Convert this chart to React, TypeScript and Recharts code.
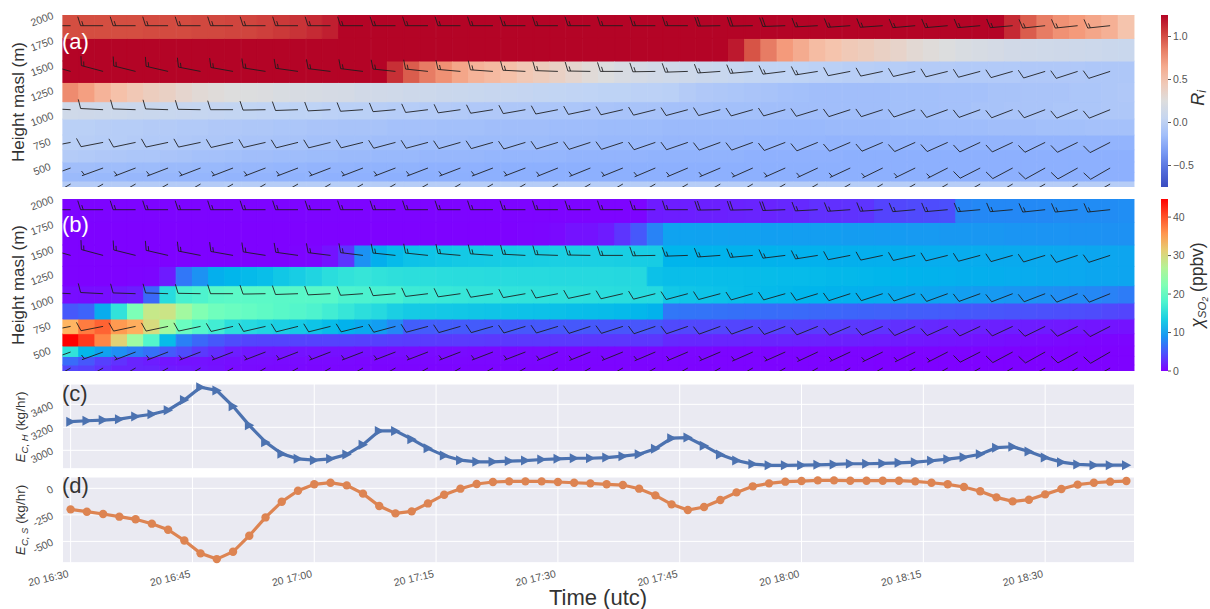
import React from "react";
import {
  Bar,
  CartesianGrid,
  Cell,
  ComposedChart,
  Line,
  LineChart,
  Scatter,
  XAxis,
  YAxis,
} from "recharts";

// minutes after 16:30, one column every 2 min
const minutes = [
  0, 2, 4, 6, 8, 10, 12, 14, 16, 18, 20, 22, 24, 26, 28, 30, 32, 34, 36, 38, 40, 42,
  44, 46, 48, 50, 52, 54, 56, 58, 60, 62, 64, 66, 68, 70, 72, 74, 76, 78, 80, 82, 84,
  86, 88, 90, 92, 94, 96, 98, 100, 102, 104, 106, 108, 110, 112, 114, 116, 118, 120,
  122, 124, 126, 128, 130,
];
const timeTicks = [0, 15, 30, 45, 60, 75, 90, 105, 120];
const timeLabels = ["20 16:30", "20 16:45", "20 17:00", "20 17:15", "20 17:30", "20 17:45", "20 18:00", "20 18:15", "20 18:30"];
const heightTicks = [500, 750, 1000, 1250, 1500, 1750, 2000];

// model layers, thickness in m from the ground up
const layerThickness = [380, 86, 104, 123, 147, 160, 173, 193, 214, 226, 234];

// Richardson number, top layer first
const riRows = [
  [1.0,1.0,1.0,1.0,1.0,1.01,1.01,1.01,1.02,1.02,1.03,1.03,1.05,1.07,1.09,1.12,1.16,1.25,1.25,1.25,1.25,1.25,1.25,1.25,1.25,1.25,1.25,1.25,1.25,1.25,1.25,1.25,1.25,1.25,1.25,1.25,1.25,1.25,1.25,1.25,1.25,1.25,1.25,1.25,1.25,1.25,1.25,1.25,1.25,1.25,1.25,1.25,1.25,1.25,1.25,1.25,1.25,1.25,1.12,0.95,0.85,0.78,0.75,0.68,0.62,0.5],
  [1.25,1.25,1.25,1.25,1.25,1.25,1.25,1.25,1.25,1.25,1.25,1.25,1.25,1.25,1.25,1.25,1.25,1.25,1.25,1.25,1.25,1.25,1.25,1.25,1.25,1.25,1.25,1.25,1.25,1.25,1.25,1.25,1.25,1.25,1.25,1.25,1.25,1.25,1.25,1.25,1.25,1.18,0.98,0.85,0.75,0.65,0.55,0.5,0.45,0.42,0.38,0.35,0.3,0.27,0.24,0.21,0.19,0.17,0.15,0.14,0.13,0.12,0.11,0.1,0.09,0.08],
  [1.25,1.25,1.25,1.25,1.25,1.25,1.25,1.25,1.25,1.25,1.25,1.25,1.25,1.25,1.25,1.25,1.25,1.25,1.25,1.25,1.1,0.95,0.85,0.78,0.68,0.6,0.56,0.52,0.46,0.42,0.38,0.33,0.28,0.24,0.2,0.17,0.15,0.13,0.11,0.09,0.07,0.05,0.03,0.01,0,-0.01,-0.02,-0.03,-0.04,-0.04,-0.05,-0.05,-0.06,-0.06,-0.06,-0.07,-0.07,-0.07,-0.07,-0.08,-0.08,-0.08,-0.08,-0.09,-0.09,-0.09],
  [0.8,0.72,0.6,0.52,0.46,0.41,0.38,0.33,0.29,0.27,0.25,0.24,0.23,0.21,0.2,0.19,0.18,0.17,0.15,0.14,0.13,0.11,0.1,0.09,0.08,0.07,0.06,0.05,0.04,0.03,0.02,0.01,0,-0.01,-0.01,-0.02,-0.02,-0.03,-0.06,-0.08,-0.09,-0.1,-0.11,-0.12,-0.13,-0.14,-0.15,-0.15,-0.15,-0.15,-0.15,-0.14,-0.14,-0.14,-0.13,-0.13,-0.13,-0.12,-0.12,-0.11,-0.11,-0.11,-0.1,-0.1,-0.09,-0.08],
  [0.13,0.12,0.11,0.1,0.09,0.08,0.07,0.06,0.05,0.04,0.03,0.02,0.01,0,-0.01,-0.01,-0.02,-0.03,-0.03,-0.04,-0.05,-0.05,-0.06,-0.06,-0.07,-0.08,-0.08,-0.09,-0.09,-0.1,-0.1,-0.1,-0.11,-0.11,-0.12,-0.12,-0.12,-0.13,-0.13,-0.13,-0.14,-0.14,-0.14,-0.15,-0.15,-0.15,-0.15,-0.15,-0.15,-0.15,-0.15,-0.14,-0.14,-0.14,-0.13,-0.13,-0.12,-0.12,-0.11,-0.11,-0.11,-0.1,-0.1,-0.1,-0.09,-0.09],
  [-0.03,-0.03,-0.04,-0.05,-0.05,-0.06,-0.06,-0.07,-0.07,-0.08,-0.08,-0.09,-0.09,-0.1,-0.1,-0.11,-0.11,-0.12,-0.12,-0.12,-0.13,-0.13,-0.13,-0.14,-0.14,-0.14,-0.15,-0.15,-0.15,-0.15,-0.16,-0.16,-0.16,-0.17,-0.17,-0.17,-0.17,-0.18,-0.18,-0.18,-0.18,-0.18,-0.18,-0.18,-0.19,-0.19,-0.19,-0.18,-0.18,-0.18,-0.18,-0.17,-0.17,-0.17,-0.16,-0.16,-0.16,-0.15,-0.15,-0.15,-0.14,-0.14,-0.14,-0.13,-0.13,-0.13],
  [-0.03,-0.04,-0.05,-0.05,-0.06,-0.07,-0.07,-0.08,-0.09,-0.09,-0.1,-0.11,-0.11,-0.12,-0.12,-0.13,-0.13,-0.14,-0.14,-0.15,-0.15,-0.15,-0.16,-0.16,-0.16,-0.17,-0.17,-0.17,-0.17,-0.17,-0.18,-0.18,-0.18,-0.19,-0.19,-0.19,-0.19,-0.2,-0.2,-0.2,-0.2,-0.2,-0.21,-0.21,-0.21,-0.21,-0.21,-0.22,-0.22,-0.22,-0.22,-0.22,-0.22,-0.22,-0.22,-0.22,-0.22,-0.22,-0.22,-0.22,-0.22,-0.22,-0.22,-0.22,-0.22,-0.22],
  [-0.06,-0.07,-0.08,-0.09,-0.1,-0.1,-0.11,-0.12,-0.13,-0.13,-0.14,-0.15,-0.15,-0.16,-0.16,-0.17,-0.17,-0.18,-0.18,-0.19,-0.19,-0.19,-0.2,-0.2,-0.2,-0.2,-0.21,-0.21,-0.21,-0.21,-0.21,-0.22,-0.22,-0.22,-0.22,-0.22,-0.23,-0.23,-0.23,-0.23,-0.23,-0.23,-0.24,-0.24,-0.24,-0.24,-0.24,-0.24,-0.25,-0.25,-0.25,-0.25,-0.25,-0.25,-0.25,-0.25,-0.25,-0.25,-0.25,-0.25,-0.25,-0.25,-0.25,-0.25,-0.25,-0.25],
  [-0.15,-0.15,-0.16,-0.16,-0.17,-0.17,-0.18,-0.18,-0.19,-0.19,-0.2,-0.2,-0.2,-0.21,-0.21,-0.22,-0.22,-0.22,-0.23,-0.23,-0.23,-0.23,-0.24,-0.24,-0.24,-0.24,-0.25,-0.25,-0.25,-0.25,-0.25,-0.25,-0.25,-0.25,-0.25,-0.25,-0.25,-0.25,-0.25,-0.25,-0.25,-0.25,-0.25,-0.25,-0.25,-0.25,-0.25,-0.25,-0.25,-0.25,-0.25,-0.25,-0.25,-0.25,-0.25,-0.25,-0.25,-0.25,-0.25,-0.25,-0.25,-0.25,-0.25,-0.25,-0.25,-0.25],
  [-0.18,-0.18,-0.19,-0.19,-0.2,-0.2,-0.2,-0.21,-0.21,-0.21,-0.22,-0.22,-0.22,-0.23,-0.23,-0.23,-0.24,-0.24,-0.24,-0.24,-0.25,-0.25,-0.25,-0.25,-0.25,-0.25,-0.25,-0.25,-0.25,-0.25,-0.25,-0.25,-0.25,-0.25,-0.25,-0.25,-0.25,-0.25,-0.25,-0.25,-0.25,-0.25,-0.25,-0.25,-0.25,-0.25,-0.25,-0.25,-0.25,-0.25,-0.25,-0.25,-0.25,-0.25,-0.25,-0.25,-0.25,-0.25,-0.25,-0.25,-0.25,-0.25,-0.25,-0.25,-0.25,-0.25],
  [-0.06,-0.06,-0.06,-0.06,-0.06,-0.06,-0.06,-0.06,-0.06,-0.06,-0.05,-0.05,-0.05,-0.05,-0.05,-0.05,-0.05,-0.05,-0.05,-0.05,-0.05,-0.05,-0.05,-0.05,-0.05,-0.05,-0.05,-0.05,-0.05,-0.05,-0.05,-0.05,-0.05,-0.05,-0.05,-0.05,-0.05,-0.05,-0.05,-0.05,-0.05,-0.05,-0.05,-0.05,-0.05,-0.05,-0.05,-0.05,-0.05,-0.05,-0.05,-0.05,-0.05,-0.05,-0.05,-0.05,-0.05,-0.05,-0.05,-0.05,-0.05,-0.05,-0.05,-0.05,-0.05,-0.05],
];

// SO2 mixing ratio (ppbv), top layer first
const so2Rows = [
  [0.2,0.2,0.2,0.2,0.2,0.2,0.2,0.2,0.2,0.2,0.2,0.2,0.2,0.2,0.2,0.2,0.2,0.2,0.2,0.2,0.2,0.2,0.2,0.2,0.2,0.2,0.2,0.2,0.2,0.2,0.2,0.2,0.2,0.2,0.2,0.2,1.5,1.6,1.7,1.8,1.8,1.9,2,2,2.2,2.3,2.7,2.7,2.8,2.9,3.8,4,4.2,4.3,4.5,7.8,8,8,8,8.1,8.1,8.2,8.2,8.3,8.3,8.4],
  [0.1,0.1,0.1,0.1,0.1,0.1,0.1,0.1,0.1,0.1,0.1,0.1,0.1,0.1,0.1,0.1,0.1,0.1,0.1,0.1,0.1,0.1,0.1,0.1,0.1,0.1,0.1,0.1,0.2,0.3,0.5,1,1,1.5,3,5,7.7,9.9,9.9,9.8,9.8,9.7,9.7,9.6,9.6,9.5,9.5,9.5,9.4,9.4,9.3,9.3,9.2,9.2,9.1,9.1,9,9,8.9,8.9,8.8,8.8,8.7,8.7,8.6,8.6],
  [0.1,0.1,0.1,0.1,0.1,0.1,0.1,0.1,0.1,0.1,0.1,0.1,0.1,0.1,0.2,0.3,1,3,8.7,10.8,11.7,12.3,12.5,12.7,12.9,13,13.1,13.2,13.3,13.4,13.5,13.5,13.5,13.5,13.4,13.3,13.2,11.2,11.2,11.1,11.1,11,11,11,10.9,10.9,10.9,10.8,10.8,10.8,10.8,10.7,10.7,10.6,10.6,10.5,10.5,10.4,10.4,10.3,10.3,10.2,10.2,10.1,10.1,10],
  [0.1,0.1,0.1,0.1,0.2,0.3,1.5,6.9,8.7,10.8,11.3,11.6,12,12.7,13.3,14,14.9,15.5,15.9,15.5,15.2,15,15,14.9,14.8,14.8,14.7,14.7,14.6,14.6,14.5,14.5,14.5,14.5,14.4,14.4,12.2,12,12,12,11.9,11.9,11.8,11.8,11.7,11.7,11.6,11.5,11.5,11.4,11.3,11.2,11.1,11,10.9,10.8,10.8,10.7,10.6,10.5,10.4,10.3,10.2,10.1,10.1,10],
  [0.7,0.7,0.7,1.3,1.6,6,14.7,17.5,18,19,19.2,19.2,19.2,19.1,19,19,18.9,18,17.8,17.6,17.5,16.6,16.4,16.2,16,15.8,15.7,15.6,15.5,15.4,15.3,15.2,15,14.9,14.8,14.6,14.5,12.8,12.6,12.4,12.2,12,11.8,11.6,11.5,11.3,11.2,11,10.9,10.8,10.6,10.4,10.2,10,9.9,9.6,9.4,9.2,9,8.8,8.6,8.4,8.2,8,7.6,7.2],
  [5,5.7,10.5,15.5,22,28.5,29,25.4,22.5,21,20.5,20,19.5,19,18.5,18,17,16,15,14.5,13.5,13,12.9,12.8,12.7,12.6,12.5,12.4,12.3,12.2,12.1,12,11.9,11.8,11.6,11.4,11,6.9,6.8,6.7,6.6,6.5,6.4,6.3,6.2,6.1,6,5.9,5.8,5.7,5.6,5.5,5.4,5.3,5.2,5.1,5,4.9,4.8,4.7,4.6,4.5,4.4,4.3,4.1,3.9],
  [33.5,37.5,39,35.5,34,30,25.5,20.5,18.5,17,15,14.5,14,13.5,13,12.5,11.8,11,10.3,9.5,8,5.4,5.3,5.3,5.2,5.2,5.1,5.1,5,5,5,5,5,4.9,4.9,4.9,4.8,4.2,4.1,4,4,3.9,3.8,3.7,3.6,3.5,3.4,3.3,3.2,3.1,2.9,2.7,2.5,2.3,2.1,2,1.9,1.8,1.7,1.6,1.5,1.4,1.3,1.2,1.1,1],
  [44.7,41.5,36.8,31,25,18.5,11.8,7.5,6,5,4.3,3.9,3.8,3.8,3.8,3.7,3.7,3.7,3.6,3.6,3.5,3.4,3.4,3.3,3.3,3.3,3.2,3.2,3.2,3.2,3.2,3.2,3.1,3.1,3.1,3.1,3.1,2.3,2.2,2.2,2.1,2.1,2,2,2,1.9,1.9,1.8,1.8,1.7,1.6,1.5,1.4,1.3,1.2,1.1,1,0.9,0.8,0.7,0.6,0.5,0.4,0.3,0.3,0.3],
  [15.5,11.5,9.8,8.5,7.4,6.5,5.2,4.3,3.2,2.5,1.6,1.3,1.2,1.1,1,1,0.9,0.9,0.8,0.8,0.7,0.7,0.6,0.6,0.6,0.5,0.5,0.5,0.5,0.5,0.4,0.4,0.4,0.4,0.4,0.4,0.4,0.4,0.4,0.4,0.3,0.3,0.3,0.3,0.3,0.3,0.3,0.3,0.3,0.3,0.2,0.2,0.2,0.2,0.2,0.2,0.2,0.2,0.1,0.1,0.1,0.1,0.1,0.1,0.1,0.1],
  [6.2,5,3.6,2.8,2,1.6,1.2,1,1,0.9,0.8,0.7,0.7,0.6,0.6,0.5,0.5,0.5,0.4,0.4,0.4,0.4,0.4,0.4,0.4,0.4,0.4,0.4,0.4,0.4,0.3,0.3,0.3,0.3,0.3,0.3,0.3,0.3,0.3,0.3,0.2,0.2,0.2,0.2,0.2,0.2,0.2,0.2,0.2,0.2,0.1,0.1,0.1,0.1,0.1,0.1,0.1,0.1,0.1,0.1,0.1,0.1,0.1,0.1,0.1,0.1],
  [4,3.6,2.8,2,2,2,1.5,1.4,1.2,1,0.6,0.6,0.5,0.5,0.5,0.4,0.4,0.4,0.4,0.3,0.3,0.3,0.3,0.3,0.3,0.3,0.3,0.3,0.3,0.3,0.2,0.2,0.2,0.2,0.2,0.2,0.2,0.2,0.2,0.2,0.2,0.2,0.2,0.2,0.2,0.2,0.2,0.2,0.2,0.2,0.1,0.1,0.1,0.1,0.1,0.1,0.1,0.1,0.1,0.1,0.1,0.1,0.1,0.1,0.1,0.1],
];

// wind barbs: one every 4 min on six heights
const barbMinutes = [0, 4, 8, 12, 16, 20, 24, 28, 32, 36, 40, 44, 48, 52, 56, 60, 64, 68, 72, 76, 80, 84, 88, 92, 96, 100, 104, 108, 112, 116, 120, 124, 128];
const barbHeights = [1933, 1476, 1093, 766, 510, 350];
const windDirRows = [
  [270,270,270,270,270,270,270,270,270,270,270,270,270,270,270,270,270,270,270,270,269,269,268,267,266,266,265,265,265,265,264,264,264],
  [286,285,284,283,281,280,279,278,277,277,276,276,275,274,273,272,271,270,269,268,266,265,263,261,259,258,257,256,255,254,253,252,252],
  [273,273,272,272,271,270,269,268,267,266,265,263,262,261,260,259,258,257,256,255,255,254,254,253,252,252,251,250,250,249,249,248,248],
  [259,259,258,258,258,257,257,256,256,256,255,255,254,254,253,253,252,252,251,251,250,250,249,248,247,247,246,246,245,245,244,244,243],
  [250,250,249,249,249,249,249,249,249,249,249,249,249,249,249,248,248,248,247,247,247,246,246,245,245,244,244,243,243,242,241,241,240],
  [240,240,240,240,240,240,240,240,240,240,240,240,240,240,240,240,240,240,240,240,240,240,240,240,240,240,240,240,240,240,240,240,240],
];
const windSpeedRows = [
  [15,15,15,15,15,15,15,15,15,15,15,15,15,15,15,15,15,15,15,15,20,20,20,15,15,15,15,15,15,15,15,15,15],
  [15,15,15,15,15,15,15,15,15,15,15,15,15,15,15,15,15,15,15,15,15,15,15,15,10,10,10,10,10,10,10,10,10],
  [10,10,10,10,10,10,10,10,10,10,10,10,10,10,10,10,10,10,10,10,10,10,10,10,10,10,10,10,10,10,10,10,10],
  [10,10,10,10,10,10,10,10,10,10,10,10,10,10,10,10,10,10,10,10,10,10,10,10,10,10,10,10,10,10,10,10,10],
  [5,5,5,5,5,5,5,5,5,5,5,5,5,5,5,5,5,5,5,5,5,5,5,5,5,5,5,5,10,10,10,10,10],
  [5,5,5,5,5,5,5,5,5,5,5,5,5,5,5,5,5,5,5,5,5,5,5,5,5,5,5,5,5,5,5,5,5],
];

// emission rates (kg/hr)
const hEmission = [3249,3257,3263,3271,3294,3314,3349,3437,3549,3520,3383,3217,3071,2969,2926,2914,2926,2963,3049,3169,3169,3097,3017,2954,2914,2900,2900,2906,2911,2920,2926,2931,2931,2937,2949,2966,3014,3106,3111,3040,2963,2911,2880,2869,2869,2871,2874,2877,2883,2883,2886,2891,2897,2909,2923,2940,2966,3023,3031,2989,2937,2897,2877,2871,2871,2871];
const sEmission = [-198,-220,-242,-267,-292,-333,-390,-491,-613,-667,-598,-447,-274,-126,-22,38,53,28,-50,-167,-236,-217,-142,-60,-3,41,60,66,66,66,60,53,47,38,31,-3,-66,-151,-204,-176,-110,-38,19,47,63,69,75,75,72,72,72,72,66,53,38,13,-28,-85,-123,-107,-57,-6,35,53,63,69];

const riRange = [-0.75, 1.25];
const so2Range = [0, 44.7];

const FONT = "'Liberation Sans', Arial, sans-serif";
const TICK = "#555";
const LABEL = "#333";
const PLOT_LEFT = 62.5;
const PLOT_RIGHT = 1210 - 1134.5;

const coolwarmStops = [
  [58, 76, 192], [89, 119, 227], [141, 176, 254], [192, 212, 245], [221, 221, 221],
  [245, 196, 173], [244, 154, 123], [212, 78, 65], [180, 4, 38],
];

function coolwarm(v: number) {
  const x = Math.min(1, Math.max(0, (v - riRange[0]) / (riRange[1] - riRange[0])));
  const p = x * (coolwarmStops.length - 1);
  const i = Math.min(coolwarmStops.length - 2, Math.floor(p));
  const f = p - i;
  const c = coolwarmStops[i].map((a, k) => Math.round(a + (coolwarmStops[i + 1][k] - a) * f));
  return `rgb(${c[0]},${c[1]},${c[2]})`;
}

function rainbow(v: number) {
  const x = Math.min(1, Math.max(0, (v - so2Range[0]) / (so2Range[1] - so2Range[0])));
  const r = Math.min(1, Math.abs(2 * x - 0.5));
  const g = Math.sin(Math.PI * x);
  const b = Math.cos((Math.PI * x) / 2);
  return `rgb(${Math.round(r * 255)},${Math.round(g * 255)},${Math.round(b * 255)})`;
}

const layerKeys = layerThickness.map((_, i) => `layer${i}`);
const heatTable = minutes.map((t) => {
  const row: Record<string, number> = { t };
  layerThickness.forEach((h, i) => (row[layerKeys[i]] = h));
  return row;
});
const barbPoints = barbHeights.flatMap((height, r) =>
  barbMinutes.map((t, k) => ({ t, height, dir: windDirRows[r][k], speed: windSpeedRows[r][k] }))
);
const emissionTable = minutes.map((t, i) => ({ t, h: hEmission[i], s: sEmission[i] }));

// tip of the barb sits on the point, shaft points where the wind comes from
function Barb(props: any) {
  const { cx, cy, payload } = props;
  if (cx == null || cy == null) return null;
  const a = ((payload.dir - 270) * Math.PI) / 180;
  const ux = -Math.cos(a);
  const uy = -Math.sin(a);
  const fx = 0.3 * ux + 0.95 * Math.sin(a);
  const fy = 0.3 * uy - 0.95 * Math.cos(a);
  const len = 22.5;
  const ex = cx + ux * len;
  const ey = cy + uy * len;
  let d = `M${cx} ${cy}L${ex} ${ey}`;
  const feather = (offset: number, size: number) => {
    const bx = ex - ux * offset;
    const by = ey - uy * offset;
    d += `M${bx} ${by}L${bx + fx * size} ${by + fy * size}`;
  };
  if (payload.speed >= 10) feather(0, 9.5);
  if (payload.speed >= 20) feather(2.6, 9.5);
  if (payload.speed === 5 || payload.speed === 15) feather(2.6, 4.8);
  return <path d={d} fill="none" stroke="#1c1c1c" strokeWidth={1} strokeOpacity={0.88} />;
}

function HeightTick(props: any) {
  const { y, payload } = props;
  return (
    <text x={42} y={y} dy="0.35em" textAnchor="middle" fontSize={10.5} fontFamily={FONT} fill={TICK} transform={`rotate(-20 42 ${y})`}>
      {payload.value}
    </text>
  );
}

function EmissionTick(props: any) {
  const { y, payload } = props;
  return (
    <text x={52.5} y={y} dy="0.35em" textAnchor="end" fontSize={10.5} fontFamily={FONT} fill={TICK} transform={`rotate(-25 52.5 ${y})`}>
      {payload.value}
    </text>
  );
}

function TimeTick(props: any) {
  const { x, payload } = props;
  const label = timeLabels[timeTicks.indexOf(payload.value)];
  return (
    <text x={x - 1.5} y={107} textAnchor="end" fontSize={10.5} fontFamily={FONT} fill={TICK} transform={`rotate(-13 ${x - 1.5} 107)`}>
      {label}
    </text>
  );
}

function HeatPanel({ top, rows, colour }: { top: number; rows: number[][]; colour: (v: number) => string }) {
  return (
    <div style={{ position: "absolute", left: 0, top: top - 10, width: 1210, height: 196 }}>
      <ComposedChart
        width={1210}
        height={196}
        data={heatTable}
        barCategoryGap={0}
        barGap={0}
        margin={{ top: 12, right: PLOT_RIGHT, bottom: 12, left: PLOT_LEFT - 50 }}
      >
        <XAxis dataKey="t" type="category" hide allowDataOverflow />
        <XAxis xAxisId="wind" dataKey="t" type="number" domain={[-1, 131]} hide allowDataOverflow />
        <YAxis
          type="number"
          width={50}
          domain={[320, 2040]}
          ticks={heightTicks}
          interval={0}
          allowDataOverflow
          axisLine={false}
          tickLine={false}
          tick={(p: any) => <HeightTick {...p} />}
        />
        {layerKeys.map((key, i) => {
          const values = rows[rows.length - 1 - i];
          return (
            <Bar key={key} dataKey={key} stackId="layers" isAnimationActive={false}>
              {values.map((v, c) => (
                <Cell key={c} fill={colour(v)} stroke={colour(v)} strokeWidth={1} />
              ))}
            </Bar>
          );
        })}
        <Scatter
          xAxisId="wind"
          data={barbPoints}
          dataKey="height"
          isAnimationActive={false}
          shape={(p: any) => <Barb {...p} />}
        />
      </ComposedChart>
    </div>
  );
}

function ColourBar({ id, top, domain, ticks, colour, format }: { id: string; top: number; domain: number[]; ticks: number[]; colour: (v: number) => string; format: (v: number) => string }) {
  const fractions = [0, 0.1, 0.2, 0.3, 0.4, 0.5, 0.6, 0.7, 0.8, 0.9, 1];
  return (
    <div style={{ position: "absolute", left: 1161, top: top - 10, width: 49, height: 196 }}>
      <ComposedChart width={49} height={196} data={[{ name: "bar", span: domain }]} barCategoryGap={0} margin={{ top: 12, right: 0, bottom: 12, left: 0 }}>
        <defs>
          <linearGradient id={id} x1="0" y1="1" x2="0" y2="0">
            {fractions.map((f) => (
              <stop key={f} offset={f} stopColor={colour(domain[0] + f * (domain[1] - domain[0]))} />
            ))}
          </linearGradient>
        </defs>
        <XAxis dataKey="name" type="category" hide />
        <YAxis
          orientation="right"
          type="number"
          width={42}
          domain={domain}
          ticks={ticks}
          interval={0}
          axisLine={false}
          tickSize={3}
          tickLine={{ stroke: TICK }}
          tickFormatter={format}
          tick={{ fontSize: 10.5, fill: TICK, fontFamily: FONT }}
        />
        <Bar dataKey="span" fill={`url(#${id})`} isAnimationActive={false} />
      </ComposedChart>
    </div>
  );
}

const TriangleDot = (props: any) => {
  const { cx, cy, index } = props;
  return <polygon key={index} points={`${cx - 4.4},${cy - 5} ${cx + 5},${cy} ${cx - 4.4},${cy + 5}`} fill="#4C72B0" />;
};

const CircleDot = (props: any) => {
  const { cx, cy, index } = props;
  return <circle key={index} cx={cx} cy={cy} r={4.2} fill="#DD8452" />;
};

export default function App() {
  return (
    <div style={{ position: "absolute", left: 0, top: 0, width: 1210, height: 609, overflow: "hidden", background: "#fff" }}>
      <HeatPanel top={13.3} rows={riRows} colour={coolwarm} />
      <HeatPanel top={197} rows={so2Rows} colour={rainbow} />
      <ColourBar id="riBar" top={13.3} domain={riRange} ticks={[-0.5, 0, 0.5, 1]} colour={coolwarm} format={(v) => (v < 0 ? "\u2212" : "") + Math.abs(v).toFixed(1)} />
      <ColourBar id="so2Bar" top={197} domain={so2Range} ticks={[0, 10, 20, 30, 40]} colour={rainbow} format={(v) => String(v)} />

      <div style={{ position: "absolute", left: 0, top: 380, width: 1210, height: 92 }}>
        <LineChart width={1210} height={92} data={emissionTable} margin={{ top: 4, right: PLOT_RIGHT, bottom: 2.3, left: PLOT_LEFT - 55 }}>
          <CartesianGrid fill="#EAEAF2" stroke="#fff" strokeWidth={1} />
          <XAxis dataKey="t" type="number" domain={[-1, 131]} ticks={timeTicks} interval={0} height={1} tick={() => <g />} axisLine={false} tickLine={false} />
          <YAxis type="number" width={55} domain={[2840, 3577]} ticks={[3000, 3200, 3400]} interval={0} axisLine={false} tickLine={false} tick={(p: any) => <EmissionTick {...p} />} />
          <Line dataKey="h" stroke="#4C72B0" strokeWidth={3.2} dot={TriangleDot} isAnimationActive={false} />
        </LineChart>
      </div>

      <div style={{ position: "absolute", left: 0, top: 470, width: 1210, height: 139 }}>
        <LineChart width={1210} height={139} data={emissionTable} margin={{ top: 7, right: PLOT_RIGHT, bottom: 16.3, left: PLOT_LEFT - 55 }}>
          <CartesianGrid fill="#EAEAF2" stroke="#fff" strokeWidth={1} />
          <XAxis dataKey="t" type="number" domain={[-1, 131]} ticks={timeTicks} interval={0} height={30} axisLine={false} tickLine={false} tick={(p: any) => <TimeTick {...p} />} />
          <YAxis type="number" width={55} domain={[-701, 107]} ticks={[-500, -250, 0]} interval={0} axisLine={false} tickLine={false} tick={(p: any) => <EmissionTick {...p} />} />
          <Line dataKey="s" stroke="#DD8452" strokeWidth={3.2} dot={CircleDot} isAnimationActive={false} />
        </LineChart>
      </div>

      <svg width={1210} height={609} style={{ position: "absolute", left: 0, top: 0, pointerEvents: "none" }} fontFamily={FONT}>
        <text x={62} y={49} fontSize={22} fill="#fff">(a)</text>
        <text x={62} y={232} fontSize={22} fill="#fff">(b)</text>
        <text x={62} y={401} fontSize={22} fill={LABEL}>(c)</text>
        <text x={62} y={493} fontSize={22} fill={LABEL}>(d)</text>
        <text x={598} y={605} fontSize={22} fill={LABEL} textAnchor="middle">Time (utc)</text>
        <text transform="translate(24,102) rotate(-90)" fontSize={17} fill={LABEL} textAnchor="middle">Height masl (m)</text>
        <text transform="translate(24,285) rotate(-90)" fontSize={17} fill={LABEL} textAnchor="middle">Height masl (m)</text>
        <text transform="translate(25,427) rotate(-90)" fontSize={13.5} fill={LABEL} textAnchor="middle">
          <tspan fontStyle="italic">E</tspan>
          <tspan fontStyle="italic" fontSize={9.5} dy={2.5}>C, H</tspan>
          <tspan dy={-2.5}> (kg/hr)</tspan>
        </text>
        <text transform="translate(25,520) rotate(-90)" fontSize={13.5} fill={LABEL} textAnchor="middle">
          <tspan fontStyle="italic">E</tspan>
          <tspan fontStyle="italic" fontSize={9.5} dy={2.5}>C, S</tspan>
          <tspan dy={-2.5}> (kg/hr)</tspan>
        </text>
        <text transform="translate(1204,98) rotate(-90)" fontSize={18} fill={LABEL} textAnchor="middle">
          <tspan fontStyle="italic">R</tspan>
          <tspan fontStyle="italic" fontSize={12} dy={2}>i</tspan>
        </text>
        <text transform="translate(1203,285) rotate(-90)" fontSize={17.5} fill={LABEL} textAnchor="middle">
          <tspan fontStyle="italic">{"\u03c7"}</tspan>
          <tspan fontStyle="italic" fontSize={11.5} dy={3}>SO</tspan>
          <tspan fontStyle="italic" fontSize={8.5} dy={2}>2</tspan>
          <tspan dy={-5}> (ppbv)</tspan>
        </text>
      </svg>
    </div>
  );
}
